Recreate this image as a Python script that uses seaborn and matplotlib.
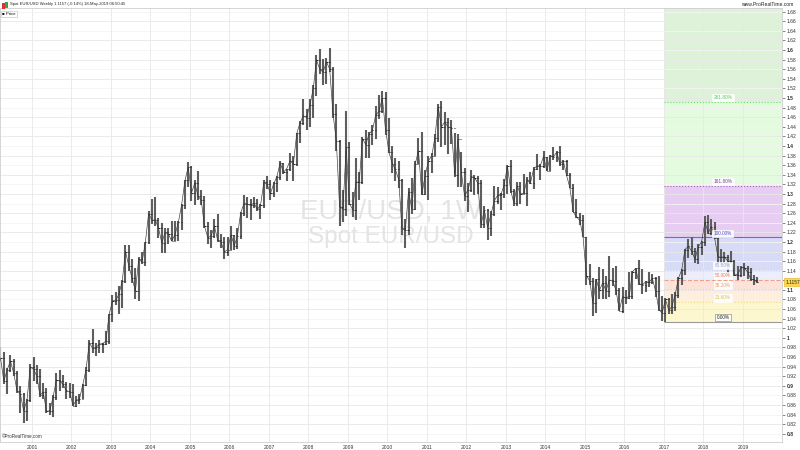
import numpy as np
import pandas as pd
import matplotlib
matplotlib.use("Agg")
import matplotlib.pyplot as plt
import matplotlib.transforms as mtransforms
from matplotlib.patches import Rectangle
from matplotlib.ticker import FixedLocator
import seaborn as sns

# ---------------- data (monthly OHLC of spot EUR/USD, read/estimated) ----------------
start_month = "2000-03-01"
first_open = 0.9660
highs = [
    0.9800, 0.9700, 0.9380, 0.9640, 0.9560, 0.9300, 0.9000, 0.8850, 0.8720, 0.9450,            # 2000 Mar-Dec
    0.9594, 0.9440, 0.9350, 0.9060, 0.8950, 0.8640, 0.8800, 0.9260, 0.9330, 0.9230, 0.9080, 0.9060,  # 2001
    0.9030, 0.8780, 0.8840, 0.9040, 0.9390, 0.9960, 1.0190, 0.9900, 0.9950, 0.9900, 1.0150, 1.0500,  # 2002
    1.0900, 1.0950, 1.1080, 1.1200, 1.1930, 1.1930, 1.1640, 1.1450, 1.1680, 1.1800, 1.2000, 1.2640,  # 2003
    1.2900, 1.2930, 1.2500, 1.2390, 1.2280, 1.2300, 1.2430, 1.2430, 1.2440, 1.2800, 1.3300, 1.3666,  # 2004
    1.3580, 1.3290, 1.3480, 1.3090, 1.2950, 1.2420, 1.2240, 1.2470, 1.2580, 1.2170, 1.2100, 1.2110,  # 2005
    1.2330, 1.2150, 1.2300, 1.2630, 1.2980, 1.2940, 1.2900, 1.2940, 1.2900, 1.2780, 1.3280, 1.3370,  # 2006
    1.3280, 1.3250, 1.3370, 1.3680, 1.3650, 1.3530, 1.3850, 1.3800, 1.4280, 1.4520, 1.4970, 1.4780,  # 2007
    1.4970, 1.5270, 1.5900, 1.6020, 1.5820, 1.5840, 1.6038, 1.5640, 1.4870, 1.4130, 1.3090, 1.4720,  # 2008
    1.4080, 1.3050, 1.3740, 1.3460, 1.4180, 1.4340, 1.4300, 1.4440, 1.4840, 1.5060, 1.5144, 1.5130,  # 2009
    1.4580, 1.3990, 1.3740, 1.3690, 1.3320, 1.2480, 1.3120, 1.3330, 1.3680, 1.4160, 1.4282, 1.3500,  # 2010
    1.3800, 1.3860, 1.4250, 1.4880, 1.4940, 1.4700, 1.4580, 1.4550, 1.4280, 1.4250, 1.3870, 1.3550,  # 2011
    1.3230, 1.3490, 1.3390, 1.3380, 1.3280, 1.2750, 1.2690, 1.2640, 1.3170, 1.3140, 1.3020, 1.3310,  # 2012
    1.3600, 1.3710, 1.3100, 1.3240, 1.3240, 1.3420, 1.3350, 1.3450, 1.3570, 1.3830, 1.3620, 1.3893,  # 2013
    1.3780, 1.3820, 1.3970, 1.3900, 1.3995, 1.3700, 1.3700, 1.3440, 1.3200, 1.2890, 1.2600, 1.2570,  # 2014
    1.2100, 1.1530, 1.1240, 1.1220, 1.1467, 1.1440, 1.1280, 1.1714, 1.1460, 1.1490, 1.1040, 1.1060,  # 2015
    1.0990, 1.1380, 1.1400, 1.1460, 1.1616, 1.1430, 1.1190, 1.1370, 1.1330, 1.1260, 1.1300, 1.0880,  # 2016
    1.0830, 1.0830, 1.0910, 1.0950, 1.1270, 1.1440, 1.1850, 1.2070, 1.2092, 1.1880, 1.1960, 1.2020,  # 2017
    1.2530, 1.2555, 1.2470, 1.2410, 1.2100, 1.1850, 1.1790, 1.1730, 1.1820, 1.1620, 1.1500, 1.1490,  # 2018
    1.1570, 1.1490, 1.1450, 1.1320, 1.1260,                                                      # 2019 Jan-May
]
lows = [
    0.9510, 0.9040, 0.8840, 0.9280, 0.9200, 0.8850, 0.8440, 0.8228, 0.8260, 0.8660,
    0.9100, 0.9040, 0.8770, 0.8730, 0.8440, 0.8390, 0.8344, 0.8700, 0.8900, 0.8950, 0.8730, 0.8750,
    0.8580, 0.8560, 0.8630, 0.8720, 0.8990, 0.9280, 0.9690, 0.9620, 0.9680, 0.9690, 0.9860, 0.9870,
    1.0340, 1.0680, 1.0500, 1.0620, 1.1150, 1.1400, 1.1150, 1.0800, 1.0770, 1.1550, 1.1500, 1.1950,
    1.2380, 1.2340, 1.2080, 1.1760, 1.1760, 1.1960, 1.2020, 1.2010, 1.2010, 1.2240, 1.2690, 1.3150,
    1.2860, 1.2760, 1.2880, 1.2770, 1.2300, 1.1950, 1.1870, 1.2080, 1.1990, 1.1870, 1.1640, 1.1700,
    1.1830, 1.1830, 1.1860, 1.2070, 1.2550, 1.2500, 1.2450, 1.2700, 1.2640, 1.2480, 1.2700, 1.3100,
    1.2870, 1.2930, 1.3040, 1.3300, 1.3410, 1.3270, 1.3480, 1.3260, 1.3590, 1.4060, 1.4430, 1.4330,
    1.4390, 1.4580, 1.5050, 1.5500, 1.5280, 1.5300, 1.5550, 1.4580, 1.3890, 1.2330, 1.2420, 1.2540,
    1.2760, 1.2510, 1.2457, 1.2880, 1.3200, 1.3750, 1.3750, 1.4020, 1.4140, 1.4570, 1.4680, 1.4220,
    1.3860, 1.3440, 1.3270, 1.3120, 1.2140, 1.1876, 1.2150, 1.2590, 1.2660, 1.3620, 1.2970, 1.2970,
    1.2870, 1.3430, 1.3790, 1.4080, 1.3970, 1.4010, 1.3840, 1.4050, 1.3360, 1.3150, 1.3150, 1.2860,
    1.2620, 1.3030, 1.2980, 1.3000, 1.2280, 1.2290, 1.2042, 1.2130, 1.2540, 1.2800, 1.2660, 1.2920,
    1.3000, 1.3020, 1.2750, 1.2750, 1.2800, 1.2990, 1.2755, 1.3210, 1.3100, 1.3500, 1.3300, 1.3550,
    1.3480, 1.3480, 1.3700, 1.3670, 1.3590, 1.3500, 1.3370, 1.3130, 1.2620, 1.2500, 1.2360, 1.2100,
    1.1100, 1.1100, 1.0462, 1.0520, 1.0820, 1.0820, 1.0810, 1.0850, 1.1090, 1.0900, 1.0560, 1.0524,
    1.0710, 1.0810, 1.0820, 1.1230, 1.1100, 1.0910, 1.0950, 1.1050, 1.1120, 1.0850, 1.0550, 1.0352,
    1.0341, 1.0490, 1.0500, 1.0570, 1.0840, 1.1110, 1.1310, 1.1660, 1.1720, 1.1570, 1.1550, 1.1720,
    1.1920, 1.2160, 1.2150, 1.2060, 1.1510, 1.1510, 1.1570, 1.1300, 1.1530, 1.1300, 1.1216, 1.1270,
    1.1290, 1.1230, 1.1180, 1.1110, 1.1140,
]
closes = [
    0.9580, 0.9100, 0.9330, 0.9520, 0.9260, 0.8900, 0.8830, 0.8480, 0.8700, 0.9390,
    0.9350, 0.9200, 0.8810, 0.8870, 0.8470, 0.8480, 0.8770, 0.9120, 0.9100, 0.9030, 0.8900, 0.8880,
    0.8590, 0.8700, 0.8720, 0.9020, 0.9330, 0.9900, 0.9780, 0.9800, 0.9870, 0.9880, 0.9930, 1.0490,
    1.0770, 1.0780, 1.0910, 1.1180, 1.1800, 1.1500, 1.1240, 1.0980, 1.1650, 1.1580, 1.1990, 1.2590,
    1.2450, 1.2460, 1.2290, 1.1980, 1.2200, 1.2160, 1.2020, 1.2150, 1.2410, 1.2770, 1.3280, 1.3560,
    1.3020, 1.3230, 1.2960, 1.2870, 1.2330, 1.2090, 1.2120, 1.2330, 1.2030, 1.2000, 1.1790, 1.1840,
    1.2150, 1.1920, 1.2120, 1.2610, 1.2800, 1.2790, 1.2760, 1.2810, 1.2680, 1.2760, 1.3240, 1.3200,
    1.3010, 1.3220, 1.3360, 1.3650, 1.3450, 1.3530, 1.3690, 1.3630, 1.4260, 1.4480, 1.4630, 1.4590,
    1.4860, 1.5200, 1.5790, 1.5600, 1.5540, 1.5750, 1.5610, 1.4670, 1.4100, 1.2730, 1.2690, 1.3970,
    1.2800, 1.2670, 1.3250, 1.3240, 1.4150, 1.4030, 1.4250, 1.4330, 1.4640, 1.4720, 1.5000, 1.4330,
    1.3870, 1.3630, 1.3510, 1.3300, 1.2280, 1.2240, 1.3050, 1.2680, 1.3630, 1.3900, 1.2990, 1.3380,
    1.3690, 1.3800, 1.4170, 1.4810, 1.4400, 1.4500, 1.4390, 1.4380, 1.3390, 1.4140, 1.3450, 1.2960,
    1.3080, 1.3360, 1.3340, 1.3230, 1.2370, 1.2660, 1.2300, 1.2580, 1.2860, 1.2970, 1.2990, 1.3190,
    1.3580, 1.3060, 1.2820, 1.3170, 1.3000, 1.3010, 1.3300, 1.3220, 1.3530, 1.3580, 1.3590, 1.3780,
    1.3480, 1.3800, 1.3770, 1.3870, 1.3630, 1.3690, 1.3390, 1.3130, 1.2630, 1.2520, 1.2450, 1.2100,
    1.1290, 1.1190, 1.0730, 1.1220, 1.0990, 1.1150, 1.0980, 1.1210, 1.1180, 1.1000, 1.0570, 1.0860,
    1.0830, 1.0870, 1.1380, 1.1450, 1.1130, 1.1100, 1.1170, 1.1160, 1.1240, 1.0980, 1.0590, 1.0520,
    1.0800, 1.0580, 1.0650, 1.0900, 1.1240, 1.1420, 1.1840, 1.1910, 1.1810, 1.1640, 1.1900, 1.2000,
    1.2410, 1.2190, 1.2320, 1.2080, 1.1690, 1.1680, 1.1690, 1.1600, 1.1600, 1.1310, 1.1320, 1.1470,
    1.1450, 1.1370, 1.1220, 1.1210, 1.1157,
]
year_ticks = list(range(2001, 2020))
price_ticks = [round(0.80 + 0.02 * i, 2) for i in range(45)]
hidden_tick = 1.12          # covered by the last-price tag in the reference
last_price = 1.1157

fib_start = "2017-01-01"
fib_low = 1.0341
fib_high = 1.2092
fib_levels = [0.0, 23.6, 38.2, 50.0, 61.8, 100.0, 161.8, 261.8]
fib_labels = ["0.00%", "23.60%", "38.20%", "50.00%", "61.80%", "100.00%", "161.80%", "261.80%"]
fib_fill = ["#fdf7cf", "#fdeedd", "#fde2da", "#eceefc", "#d7dbf6", "#e7cdf2", "#e4fbe0", "#ddf2d9"]
fib_line = ["#999999", "#e8de8c", "#f3c8a4", "#f0a08a", "#c9cdee", "#6b6bd6", "#a066b0", "#66dd66"]
fib_style = ["-", ":", ":", "--", ":", "-", ":", ":"]
fib_text = ["#222222", "#d8c640", "#e8a070", "#e07a62", "#9aa0d8", "#4a4ac8", "#8a3a9a", "#5cc85c"]

# ---------------- helpers ----------------
def to_year(ts):
    ts = pd.Timestamp(ts)
    start = pd.Timestamp(year=ts.year, month=1, day=1)
    return ts.year + (ts - start).days / 365.25

dates = pd.date_range(start_month, periods=len(closes), freq="MS") + pd.Timedelta(days=14)
xs = np.array([to_year(d) for d in dates])
opens = [first_open] + closes[:-1]
df = pd.DataFrame({"x": xs, "open": opens, "high": highs, "low": lows, "close": closes})

# ---------------- figure ----------------
sns.set_style("white")
plt.rcParams["font.family"] = ["Liberation Sans", "DejaVu Sans"]

fig = plt.figure(figsize=(8, 4.5), dpi=100)
ax = fig.add_axes([0.0, 8 / 450, 782 / 800, 434 / 450])
xmin, xmax = 2000.19, 2019.99
ymin, ymax = 0.783, 1.6875
ax.set_xlim(xmin, xmax)
ax.set_ylim(ymin, ymax)

# Fibonacci zones
x0 = to_year(fib_start)
rng = fib_high - fib_low
fib_prices = [fib_low + lv / 100.0 * rng for lv in fib_levels]
tops = fib_prices[1:] + [ymax]
for i, (lo, hi) in enumerate(zip(fib_prices, tops)):
    ax.fill_between([x0, xmax], lo, hi, color=fib_fill[i], lw=0, zorder=0.2)
for i, p in enumerate(fib_prices):
    ax.hlines(p, x0, xmax, colors=fib_line[i], linestyles=fib_style[i], lw=0.8, zorder=1.5)
xmid = (x0 + xmax) / 2
for i, p in enumerate(fib_prices):
    ec = "#888888" if i == 0 else "white"
    ax.text(xmid, p + 0.0085, fib_labels[i], ha="center", va="center", fontsize=3.4,
            color=fib_text[i], zorder=4,
            bbox=dict(boxstyle="square,pad=0.3", fc="white", ec=ec, lw=0.5, alpha=0.9))

# watermark
ax.text(0.5, 0.53, "EUR/USD, 1W", transform=ax.transAxes, ha="center", va="center",
        fontsize=20, color="#e4e4e4", zorder=0.6)
ax.text(0.5, 0.472, "Spot EUR/USD", transform=ax.transAxes, ha="center", va="center",
        fontsize=17.5, color="#e4e4e4", zorder=0.6)

# price bars (OHLC)
half = 0.028
ax.vlines(df["x"], df["low"], df["high"], colors="#5e5e5e", lw=1.5, zorder=2)
ax.hlines(df["open"], df["x"] - half, df["x"], colors="#222222", lw=0.7, zorder=2.5)
ax.hlines(df["close"], df["x"], df["x"] + half, colors="#222222", lw=0.7, zorder=2.5)
sns.lineplot(data=df, x="x", y="close", ax=ax, color="#333333", lw=0.45, zorder=3,
             estimator=None, legend=False)

# axes styling
ax.set_xlabel("")
ax.set_ylabel("")
ax.set_axisbelow(True)
ax.xaxis.set_major_locator(FixedLocator(year_ticks))
ax.set_xticklabels([str(y) for y in year_ticks])
ax.yaxis.tick_right()
ax.yaxis.set_major_locator(FixedLocator(price_ticks))

def fmt(v):
    if abs(v - hidden_tick) < 1e-9:
        return ""
    return f"{v:.2f}".rstrip("0").rstrip(".")

ax.set_yticklabels([fmt(v) for v in price_ticks])
for v, lab in zip(price_ticks, ax.get_yticklabels()):
    if abs(v * 10 - round(v * 10)) < 1e-6:
        lab.set_fontweight("bold")
ax.tick_params(axis="y", which="major", length=2, width=0.5, colors="#555555",
               labelsize=3.6, pad=1.5, labelcolor="#333333")
ax.tick_params(axis="x", which="major", length=0, labelsize=3.6, pad=2, labelcolor="#333333")
ax.grid(False)
for v in price_ticks:
    k = (v - 0.82) / 0.04
    strong = abs(k - round(k)) < 1e-6
    ax.axhline(v, color="#e8e8e8" if strong else "#f4f4f4", lw=0.6, zorder=0.5)
ax.xaxis.grid(True, which="major", color="#e8e8e8", lw=0.6)
for s in ax.spines.values():
    s.set_color("#cfcfcf")
    s.set_linewidth(0.6)

# last price tag
trans = mtransforms.blended_transform_factory(ax.transAxes, ax.transData)
ax.text(1.004, last_price, f"{last_price:.4f}", transform=trans, ha="left", va="center",
        fontsize=3.4, color="#222222", zorder=5, clip_on=False,
        bbox=dict(boxstyle="square,pad=0.3", fc="#ffd54a", ec="#e0b020", lw=0.4))

# header texts
fig.add_artist(Rectangle((2 / 800, 1 - 9 / 450), 2.5 / 800, 6 / 450, transform=fig.transFigure,
                         color="#dd3333", lw=0))
fig.add_artist(Rectangle((5 / 800, 1 - 8 / 450), 2.5 / 800, 6 / 450, transform=fig.transFigure,
                         color="#33aa33", lw=0))
fig.text(10 / 800, 1 - 4.5 / 450, "Spot EUR/USD Weekly 1.1157 (-0.14%) 18-May-2019 06:50:45",
         ha="left", va="center", fontsize=3.0, color="#222222")
fig.text(793 / 800, 1 - 4.5 / 450, "www.ProRealTime.com", ha="right", va="center",
         fontsize=3.6, color="#222222")
ax.text(0.003, 0.9905, "\u25a0 Price", transform=ax.transAxes, ha="left", va="top",
        fontsize=3.2, color="#111111", zorder=6,
        bbox=dict(boxstyle="square,pad=0.3", fc="white", ec="#bbbbbb", lw=0.4))
ax.text(0.002, 0.008, "\u00a9ProRealTime.com", transform=ax.transAxes, ha="left", va="bottom",
        fontsize=3.3, color="#333333", zorder=6)

fig.savefig("out.png", dpi=100, facecolor="white")
